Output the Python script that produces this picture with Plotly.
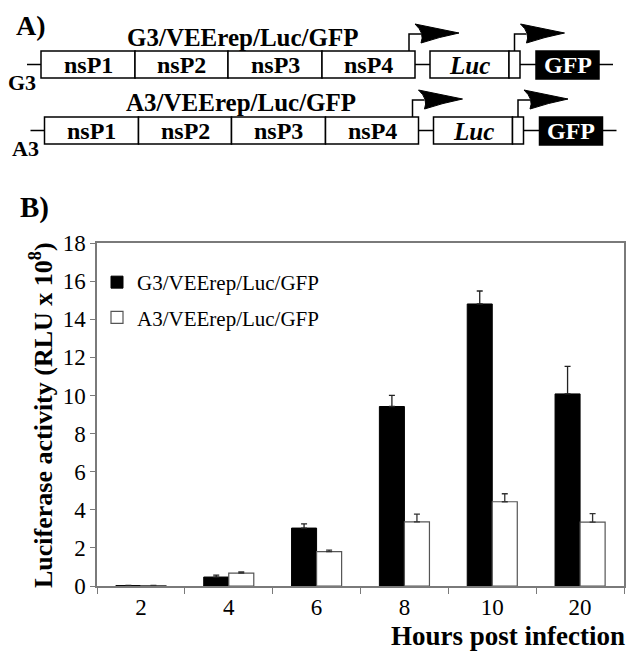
import plotly.graph_objects as go

# Panel B data (luciferase activity, RLU x 10^8)
hours = ["2", "4", "6", "8", "10", "20"]
g3_values = [0.02, 0.47, 3.04, 9.42, 14.8, 10.08]
g3_errors = [0.01, 0.10, 0.22, 0.58, 0.68, 1.45]
a3_values = [0.02, 0.68, 1.80, 3.37, 4.42, 3.35]
a3_errors = [0.01, 0.06, 0.08, 0.40, 0.42, 0.45]
series_names = ["G3/VEErep/Luc/GFP", "A3/VEErep/Luc/GFP"]
y_ticks = [0, 2, 4, 6, 8, 10, 12, 14, 16, 18]

# Panel A construct map (element lengths in map units)
row_labels = ["G3", "A3"]
ns_labels = ["nsP1", "nsP2", "nsP3", "nsP4"]
ns_lengths = [94, 93, 94, 93]
lead_len, gap1, luc_len, sg_len, gap2, gfp_len, tail_len = 14, 15, 79, 11, 16, 63, 14

W, H = 634, 652
OFF = 8  # page body margin of the html page
SERIF = "Liberation Serif, Times New Roman, Times, DejaVu Serif, serif"
AXIS_GREY = "#7a7a7a"


# positions below are given in page pixels and converted to paper fractions
def px(x):
    return (x - OFF) / W


def py(y):
    return 1 - (y - OFF) / H


fig = go.Figure()

fig.add_trace(go.Bar(
    x=hours, y=g3_values, name=series_names[0], legendgroup="g3",
    marker=dict(color="black", line=dict(color="black", width=1)),
    error_y=dict(type="data", array=g3_errors, arrayminus=[0] * len(hours),
                 symmetric=False, color="#222", thickness=1.3, width=3),
))
fig.add_trace(go.Bar(
    x=hours, y=a3_values, name=series_names[1], legendgroup="a3",
    marker=dict(color="white", line=dict(color="#555", width=1.2)),
    error_y=dict(type="data", array=a3_errors, arrayminus=[0] * len(hours),
                 symmetric=False, color="#333", thickness=1.3, width=3),
))

shapes = []
annotations = []
line_style = dict(color="black", width=1.5)


def hline(x0, x1, y):
    shapes.append(dict(type="line", xref="paper", yref="paper",
                       x0=px(x0), x1=px(x1), y0=py(y), y1=py(y), line=line_style))


def box(x0, x1, top, bottom, fill="white"):
    shapes.append(dict(type="rect", xref="paper", yref="paper",
                       x0=px(x0), x1=px(x1), y0=py(bottom), y1=py(top),
                       line=line_style, fillcolor=fill))


def label(x, y, text, size, color="black", xanchor="center", yanchor="middle", **kw):
    annotations.append(dict(xref="paper", yref="paper", x=px(x), y=py(y), text=text,
                            showarrow=False, xanchor=xanchor, yanchor=yanchor,
                            font=dict(family=SERIF, size=size, color=color), **kw))


def add_row(row, x0, top, bottom):
    mid = (top + bottom) / 2
    hline(x0 - lead_len, x0, mid)
    x = x0
    for lab, ln in zip(ns_labels, ns_lengths):
        box(x, x + ln, top, bottom)
        label(x + ln / 2, mid + 1, f"<b>{lab}</b>", 24)
        x += ln
    ns_end = x
    hline(x, x + gap1, mid)
    x += gap1
    box(x, x + luc_len, top, bottom)
    label(x + luc_len / 2, mid + 1, "<b><i>Luc</i></b>", 25)
    x += luc_len
    box(x, x + sg_len, top, bottom)
    sg_mid = x + sg_len / 2
    x += sg_len
    hline(x, x + gap2, mid)
    x += gap2
    box(x, x + gfp_len, top, bottom + 1, fill="black")
    label(x + gfp_len / 2, mid + 1, "<b>GFP</b>", 24, color="white")
    x += gfp_len
    hline(x, x + tail_len, mid)
    # promoter arrows
    for ax in (ns_end - 6, sg_mid):
        pts = [(ax, top), (ax, top - 17), (ax + 12, top - 17)]
        shapes.append(dict(type="path", xref="paper", yref="paper",
                           path="M" + " L".join(f"{px(a)},{py(b)}" for a, b in pts),
                           line=line_style))
        head = (f"M{px(ax + 6)},{py(top - 27)} L{px(ax + 50)},{py(top - 18)} "
                f"Q{px(ax + 30)},{py(top - 14)} {px(ax + 12)},{py(top - 8)} "
                f"Q{px(ax + 16)},{py(top - 18)} {px(ax + 6)},{py(top - 27)} Z")
        shapes.append(dict(type="path", xref="paper", yref="paper", path=head,
                           fillcolor="black", line=dict(color="black", width=1)))
    label(x0 - 19, bottom + 4, f"<b>{row}</b>", 22)


add_row(row_labels[0], 41, 51, 78)
add_row(row_labels[1], 44.5, 117, 144)

label(243, 38, f"<b>{series_names[0]}</b>", 25)
label(241, 103, f"<b>{series_names[1]}</b>", 25)
label(14, 8, "<b>A)</b>", 28, xanchor="left", yanchor="top")
label(18, 207, "<b>B)</b>", 29, xanchor="left")

# axis titles for panel B
label(42, 415, "<b>Luciferase activity (RLU x 10<sup>8</sup>)</b>", 26, textangle=-90)
label(627, 636, "<b>Hours post infection</b>", 27, xanchor="right")

fig.update_layout(
    width=W, height=H,
    margin=dict(l=0, r=0, t=0, b=0, autoexpand=False),
    paper_bgcolor="white", plot_bgcolor="rgba(0,0,0,0)",
    barmode="group", bargap=0.43, bargroupgap=0,
    font=dict(family=SERIF, color="black"),
    xaxis=dict(domain=[px(97), px(624)], type="category",
               showline=True, linecolor=AXIS_GREY, linewidth=1.5, mirror=True,
               ticks="outside", tickson="boundaries", ticklen=6, tickcolor=AXIS_GREY,
               tickfont=dict(family=SERIF, size=23, color="black"),
               showgrid=False, zeroline=False, fixedrange=True),
    yaxis=dict(domain=[py(586), py(243)], range=[0, 18],
               tickvals=y_ticks,
               showline=True, linecolor=AXIS_GREY, linewidth=1.5, mirror=True,
               ticks="outside", ticklen=5, tickcolor=AXIS_GREY,
               tickfont=dict(family=SERIF, size=23, color="black"),
               showgrid=False, zeroline=False, fixedrange=True),
    legend=dict(x=px(97), y=py(262), xanchor="left", yanchor="top",
                bgcolor="rgba(0,0,0,0)", tracegroupgap=5,
                font=dict(family=SERIF, size=21, color="black")),
    shapes=shapes,
    annotations=annotations,
)

fig.write_html("out.html")
